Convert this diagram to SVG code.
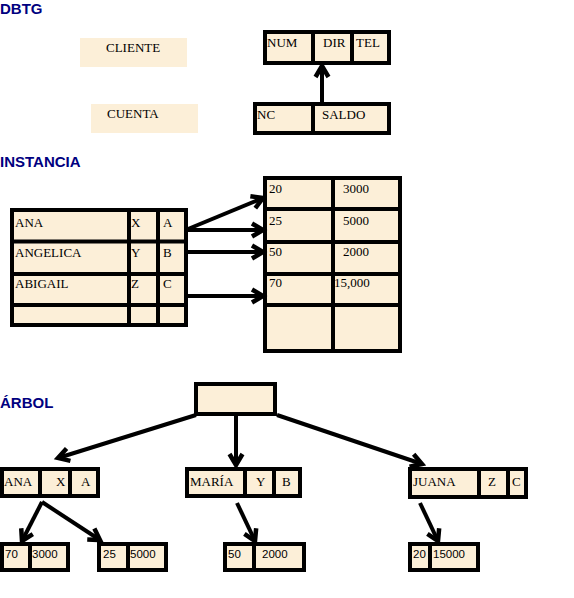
<svg xmlns="http://www.w3.org/2000/svg" width="574" height="598" viewBox="0 0 574 598">
<style>
.title{font-family:"Liberation Sans",Arial,sans-serif;font-weight:bold;font-size:15px;fill:#000080}
.t{font-family:"Liberation Serif","Times New Roman",serif;font-size:13px;fill:#000}
.n{font-family:"Liberation Sans",Arial,sans-serif;font-size:11.5px;fill:#000}
.box{fill:#fcefd8;stroke:#000;stroke-width:4}
.plain{fill:#fcefd8}
.div{stroke:#000;stroke-width:4}
.conn{stroke:#000;stroke-width:4;fill:none;marker-end:url(#ah)}
</style>
<defs>
<marker id="ah" markerUnits="userSpaceOnUse" viewBox="-16 -10 18 20" markerWidth="18" markerHeight="20" refX="0" refY="0" orient="auto" overflow="visible">
<path d="M-11,-6.5 L0,0 L-11,6.5" fill="none" stroke="#000" stroke-width="4.5" stroke-linejoin="miter"/>
</marker>
</defs>
<rect width="574" height="598" fill="#fff"/>

<text class="title" x="0" y="14">DBTG</text>
<text class="title" x="0" y="167">INSTANCIA</text>
<text class="title" x="0" y="408">ÁRBOL</text>

<g id="cliente">
<rect class="plain" x="80" y="38" width="107" height="29"/>
<text class="t" x="106" y="52">CLIENTE</text>
</g>
<g id="cuenta">
<rect class="plain" x="91" y="104" width="107" height="29"/>
<text class="t" x="107" y="118">CUENTA</text>
</g>
<g id="rec-cliente">
<rect class="box" x="265" y="32" width="124" height="31"/>
<line class="div" x1="313" y1="32" x2="313" y2="63"/>
<line class="div" x1="352" y1="32" x2="352" y2="63"/>
<text class="t" x="267" y="47">NUM</text>
<text class="t" x="323" y="47">DIR</text>
<text class="t" x="356" y="47">TEL</text>
</g>
<g id="rec-cuenta">
<rect class="box" x="255" y="104" width="134" height="29"/>
<line class="div" x1="313" y1="104" x2="313" y2="133"/>
<text class="t" x="257" y="119">NC</text>
<text class="t" x="322" y="119">SALDO</text>
</g>

<g id="tabla-clientes">
<rect class="box" x="12" y="210" width="174" height="115"/>
<line class="div" x1="12" y1="241.5" x2="186" y2="241.5"/>
<line class="div" x1="12" y1="274" x2="186" y2="274"/>
<line class="div" x1="12" y1="305" x2="186" y2="305"/>
<line class="div" x1="129" y1="210" x2="129" y2="325"/>
<line class="div" x1="158" y1="210" x2="158" y2="325"/>
<text class="t" x="15" y="227">ANA</text>
<text class="t" x="131" y="227">X</text>
<text class="t" x="163" y="227">A</text>
<text class="t" x="15" y="257">ANGELICA</text>
<text class="t" x="131" y="257">Y</text>
<text class="t" x="163" y="257">B</text>
<text class="t" x="15" y="288">ABIGAIL</text>
<text class="t" x="131" y="288">Z</text>
<text class="t" x="163" y="288">C</text>
</g>

<g id="tabla-cuentas">
<rect class="box" x="265" y="178" width="135" height="173"/>
<line class="div" x1="265" y1="209" x2="400" y2="209"/>
<line class="div" x1="265" y1="242" x2="400" y2="242"/>
<line class="div" x1="265" y1="274" x2="400" y2="274"/>
<line class="div" x1="265" y1="305" x2="400" y2="305"/>
<line class="div" x1="333" y1="178" x2="333" y2="351"/>
<text class="t" x="269" y="193">20</text>
<text class="t" x="343" y="193">3000</text>
<text class="t" x="269" y="225">25</text>
<text class="t" x="343" y="225">5000</text>
<text class="t" x="269" y="256">50</text>
<text class="t" x="343" y="256">2000</text>
<text class="t" x="269" y="287">70</text>
<text class="t" x="334" y="287">15,000</text>
</g>

<g id="raiz">
<rect class="box" x="196" y="384" width="79" height="30"/>
</g>
<g id="n-ana">
<rect class="box" x="2" y="469" width="96" height="27"/>
<line class="div" x1="40" y1="469" x2="40" y2="496"/>
<line class="div" x1="70" y1="469" x2="70" y2="496"/>
<text class="t" x="4" y="486">ANA</text>
<text class="t" x="56" y="486">X</text>
<text class="t" x="81" y="486">A</text>
</g>
<g id="n-maria">
<rect class="box" x="187" y="469" width="113" height="27"/>
<line class="div" x1="245" y1="469" x2="245" y2="496"/>
<line class="div" x1="274" y1="469" x2="274" y2="496"/>
<text class="t" x="190" y="486">MARÍA</text>
<text class="t" x="256" y="486">Y</text>
<text class="t" x="282" y="486">B</text>
</g>
<g id="n-juana">
<rect class="box" x="410" y="469" width="116" height="28"/>
<line class="div" x1="479" y1="469" x2="479" y2="497"/>
<line class="div" x1="508" y1="469" x2="508" y2="497"/>
<text class="t" x="413" y="486">JUANA</text>
<text class="t" x="488" y="486">Z</text>
<text class="t" x="512" y="486">C</text>
</g>
<g id="h-70">
<rect class="box" x="2" y="544" width="66" height="26"/>
<line class="div" x1="30" y1="544" x2="30" y2="570"/>
<text class="n" x="5" y="558">70</text>
<text class="n" x="32" y="558">3000</text>
</g>
<g id="h-25">
<rect class="box" x="99" y="544" width="67" height="26"/>
<line class="div" x1="128" y1="544" x2="128" y2="570"/>
<text class="n" x="103" y="558">25</text>
<text class="n" x="130" y="558">5000</text>
</g>
<g id="h-50">
<rect class="box" x="225" y="544" width="79" height="26"/>
<line class="div" x1="254" y1="544" x2="254" y2="570"/>
<text class="n" x="228" y="558">50</text>
<text class="n" x="262" y="558">2000</text>
</g>
<g id="h-20">
<rect class="box" x="410" y="544" width="68" height="26"/>
<line class="div" x1="430" y1="544" x2="430" y2="570"/>
<text class="n" x="413" y="558">20</text>
<text class="n" x="433" y="558">15000</text>
</g>

<g id="connectors">
<line class="conn" x1="322" y1="102" x2="322" y2="66"/>
<line class="conn" x1="188" y1="229" x2="263" y2="198"/>
<line class="conn" x1="188" y1="230" x2="263" y2="230"/>
<line class="conn" x1="188" y1="252" x2="263" y2="252"/>
<line class="conn" x1="188" y1="296" x2="263" y2="296"/>
<line class="conn" x1="196" y1="415" x2="58" y2="458"/>
<line class="conn" x1="236" y1="416" x2="236" y2="465"/>
<line class="conn" x1="277" y1="415" x2="422" y2="464"/>
<line class="conn" x1="42" y1="502" x2="22" y2="541"/>
<line class="conn" x1="42" y1="502" x2="100" y2="540"/>
<line class="conn" x1="237" y1="503" x2="255" y2="541"/>
<line class="conn" x1="420" y1="503" x2="438" y2="541"/>
</g>
</svg>
